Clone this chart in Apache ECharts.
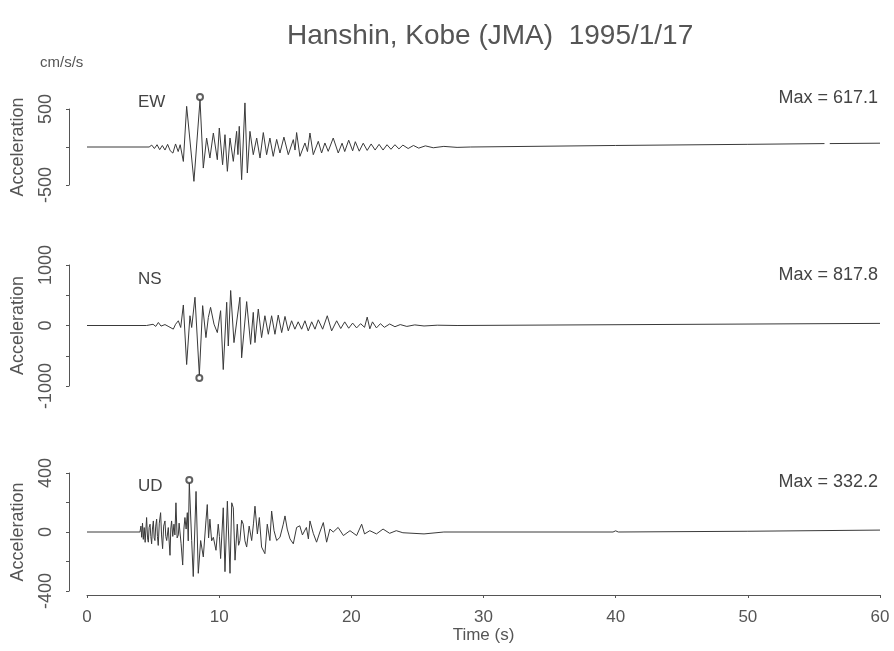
<!DOCTYPE html>
<html>
<head>
<meta charset="utf-8">
<script src="https://cdn.jsdelivr.net/npm/echarts@6/dist/echarts.min.js"></script>
<style>
  html, body { margin: 0; padding: 0; background: #fff; }
  #chart { width: 894px; height: 651px; }
</style>
</head>
<body>
<div id="chart"></div>
<script>
// readings off the record, time in seconds, acceleration in cm/s/s
const ewTime = [0, 4.7, 4.9, 5.1, 5.3, 5.5, 5.7, 5.9, 6.1, 6.3, 6.5, 6.7, 6.9, 7.05, 7.29, 7.54, 8.09, 8.55, 8.8, 9.05,
  9.3, 9.56, 9.86, 10.01, 10.26, 10.44, 10.62, 10.82, 11.07, 11.32, 11.42, 11.52, 11.7, 11.95, 12.13, 12.33, 12.58, 12.84, 13.09, 13.34,
  13.59, 13.84, 14.09, 14.35, 14.6, 14.9, 15.23, 15.61, 15.74, 15.86, 16.11, 16.49, 16.68, 16.87, 17.12, 17.5, 17.75, 18.0, 18.25, 18.63,
  19.01, 19.3, 19.5, 19.8, 20.1, 20.3, 20.6, 20.9, 21.2, 21.5, 21.8, 22.1, 22.4, 22.7, 23.0, 23.3, 23.6, 23.9, 24.3, 24.7,
  25.1, 25.6, 26.2, 27, 28, 29, 40, 50, 55.8, 55.9, 56.2, 60];
const ewAcc = [0, 0, 25, -20, 30, -35, 20, -40, 35, -50, -80, 40, -60, 30, -190, 535, -452, 617.1, -277, 118,
  -145, 184, -167, 250, -233, 162, -320, 118, -189, 206, -100, 272, -430, 580, -342, 206, -101, 118, -145, 190,
  -101, 118, -123, 100, -79, 130, -101, 97, -40, 190, -123, 53, -60, 184, -101, 75, -79, 53, -57, 118,
  -79, 50, -60, 90, -50, 70, -55, 50, -45, 40, -40, 35, -40, 30, -30, 30, -25, 25, -20, 20,
  -15, 15, -10, 8, -5, 0, 20, 35, 45, null, 45, 50];

const nsTime = [0, 4.5, 5.0, 5.2, 5.4, 5.6, 5.9, 6.2, 6.53, 6.7, 6.91, 7.09, 7.29, 7.54, 7.79, 7.92, 8.17, 8.5, 8.75, 9.0,
  9.18, 9.35, 9.61, 9.86, 10.11, 10.31, 10.57, 10.69, 10.87, 11.12, 11.57, 11.7, 12.08, 12.38, 12.58, 12.71, 12.96, 13.21, 13.46, 13.72,
  13.97, 14.22, 14.47, 14.73, 14.98, 15.23, 15.48, 15.73, 15.98, 16.24, 16.49, 16.74, 17.0, 17.25, 17.5, 17.83, 18.18, 18.51, 18.89, 19.2,
  19.5, 19.8, 20.1, 20.4, 20.7, 21.0, 21.2, 21.4, 21.6, 21.9, 22.2, 22.5, 22.9, 23.3, 23.7, 24.2, 24.8, 25.5, 26.5, 28, 60];
const nsAcc = [0, 0, 20, -15, 50, -10, 15, -20, -60, 20, 78, -33, 339, -645, 161, -33, 467, -817.8, 328, -200,
  133, 300, 22, -117, 245, -728, 384, -339, 578, -283, 467, -534, 395, -311, 217, -283, 272, -200, 161, -145,
  161, -145, 172, -117, 150, -89, 78, -61, 61, -61, 78, -89, 61, -61, 94, -61, 161, -89, 78, -50,
  60, -45, 40, -40, 30, -30, 139, -55, 60, -40, 30, -30, 25, -20, 15, -15, 10, -8, 5, 0, 35];

const udTime = [0, 4.01, 4.08, 4.14, 4.2, 4.26, 4.33, 4.4, 4.51, 4.58, 4.64, 4.7, 4.77, 4.83, 4.89, 4.95, 5.02, 5.08, 5.14, 5.2,
  5.27, 5.33, 5.39, 5.47, 5.57, 5.64, 5.72, 5.8, 5.9, 5.96, 6.03, 6.15, 6.28, 6.34, 6.4, 6.49, 6.58, 6.65, 6.73, 6.82,
  6.91, 6.97, 7.03, 7.12, 7.24, 7.33, 7.41, 7.5, 7.59, 7.66, 7.74, 7.92, 8.04, 8.25, 8.42, 8.6, 8.8, 9.0, 9.1, 9.2,
  9.3, 9.43, 9.56, 9.76, 9.93, 10.02, 10.11, 10.31, 10.44, 10.62, 10.82, 10.95, 11.07, 11.2, 11.37, 11.47, 11.57, 11.7, 11.82, 11.95,
  12.08, 12.27, 12.46, 12.6, 12.71, 12.89, 13.04, 13.21, 13.46, 13.64, 13.84, 13.97, 14.15, 14.35, 14.6, 14.85, 14.98, 15.15, 15.36, 15.61,
  15.86, 16.1, 16.3, 16.6, 16.75, 16.87, 17.12, 17.37, 17.62, 17.88, 18.13, 18.38, 18.63, 19.0, 19.4, 19.9, 20.4, 20.78, 21.0, 21.4,
  21.9, 22.4, 22.9, 23.4, 23.9, 25.5, 27, 39.8, 40, 40.2, 50, 60];
const udAcc = [0, 0, 40, -36, 60, -50, 30, -70, 98, -40, -69, 30, 53, -30, -80, 20, 75, -40, -58, 40,
  87, -30, -91, 60, 131, -20, -113, 40, 75, -30, -58, 30, -158, 20, 75, -30, 53, -20, 198, -40,
  -20, 60, 53, -80, -224, 20, 98, 20, 131, -60, 332.2, -58, -302, 275, -280, -58, -169, 75, 186, -40,
  87, -60, -36, -124, 53, -30, -180, 164, -269, 209, -280, 198, 164, -191, 53, -90, -58, 80, 53, -60,
  -102, 40, -58, 60, 175, -13, 98, -102, -147, 53, -58, 142, 9, -58, -36, 53, 109, 20, -47, -80,
  31, 42, -20, 31, -47, 75, -9, -69, 0, 64, -69, 20, 0, 31, -24, 9, -24, 53, -13, 9,
  -13, 20, -9, 9, -5, -13, 0, 0, 8, 0, 5, 13];

const channels = ['EW', 'NS', 'UD'];
const yMax = [500, 1000, 400];
const yStep = [500, 500, 200];
const yLabelStep = [500, 1000, 400];
const xTicks = [0, 60, 10];

const traces = [[ewTime, ewAcc], [nsTime, nsAcc], [udTime, udAcc]];

const ink = '#3a3a3a';
const grey = '#555';
const font = '"Liberation Sans", Arial, sans-serif';

// grid boxes: y range from -max to +max
const grids = [
  { left: 87, right: 14, top: 109, height: 76 },
  { left: 87, right: 14, top: 265, height: 121 },
  { left: 87, right: 14, top: 473, height: 118 }
];
const labelY = [103, 280, 487];

const chart = echarts.init(document.getElementById('chart'));

const xAxis = [];
const yAxis = [];
const series = [];
const texts = [];

traces.forEach((tr, i) => {
  const t = tr[0];
  const a = tr[1];
  const pts = t.map((x, k) => [x, a[k] === null ? '-' : a[k]]);
  let pk = 0;
  a.forEach((v, k) => { if (v !== null && Math.abs(v) > Math.abs(a[pk])) pk = k; });
  const bottom = i === 2;

  xAxis.push({
    gridIndex: i,
    type: 'value',
    min: xTicks[0],
    max: xTicks[1],
    interval: xTicks[2],
    show: bottom,
    offset: 4,
    name: bottom ? 'Time (s)' : '',
    nameLocation: 'middle',
    nameGap: 32,
    nameTextStyle: { color: grey, fontSize: 17, fontFamily: font },
    axisLine: { show: true, onZero: false, lineStyle: { color: grey, width: 1 } },
    axisTick: { show: true, length: 3, lineStyle: { color: grey } },
    axisLabel: { color: grey, fontSize: 17, fontFamily: font, margin: 14 },
    splitLine: { show: false }
  });

  yAxis.push({
    gridIndex: i,
    type: 'value',
    min: -yMax[i],
    max: yMax[i],
    interval: yStep[i],
    offset: 18,
    name: 'Acceleration',
    nameLocation: 'middle',
    nameRotate: 90,
    nameGap: 42,
    nameTextStyle: { color: grey, fontSize: 18, fontFamily: font },
    axisLine: { show: true, onZero: false, lineStyle: { color: grey, width: 1 } },
    axisTick: { show: true, length: 3, lineStyle: { color: grey } },
    axisLabel: {
      rotate: 90,
      margin: 14,
      color: grey,
      fontSize: 18,
      fontFamily: font,
      formatter: (v) => {
        if (v % yLabelStep[i] !== 0) return '';
        if (i === 0 && v === 0) return '';
        return String(v);
      }
    },
    splitLine: { show: false }
  });

  series.push({
    type: 'line',
    xAxisIndex: i,
    yAxisIndex: i,
    data: pts,
    showSymbol: false,
    clip: false,
    connectNulls: false,
    lineStyle: { color: ink, width: 1 },
    silent: true
  });

  series.push({
    type: 'scatter',
    xAxisIndex: i,
    yAxisIndex: i,
    data: [[t[pk], a[pk]]],
    symbol: 'emptyCircle',
    symbolSize: 6,
    symbolOffset: [0, a[pk] > 0 ? -3 : 3],
    clip: false,
    itemStyle: { color: ink, borderColor: ink, borderWidth: 1 },
    silent: true
  });

  texts.push({
    type: 'text',
    left: 138,
    top: labelY[i] - 9,
    style: { text: channels[i], font: '17px ' + font, fill: '#444' }
  });
  texts.push({
    type: 'text',
    right: 16,
    top: labelY[i] - 14,
    style: { text: 'Max = ' + Math.abs(a[pk]).toFixed(1), font: '18px ' + font, fill: '#444' }
  });
});

texts.push({
  type: 'text',
  left: 287,
  top: 22,
  style: { text: 'Hanshin, Kobe (JMA)  1995/1/17', font: '28px ' + font, fill: grey }
});
texts.push({
  type: 'text',
  left: 40,
  top: 55,
  style: { text: 'cm/s/s', font: '15px ' + font, fill: grey }
});

chart.setOption({
  animation: false,
  backgroundColor: '#fff',
  grid: grids,
  xAxis: xAxis,
  yAxis: yAxis,
  series: series,
  graphic: texts
});
</script>
</body>
</html>
